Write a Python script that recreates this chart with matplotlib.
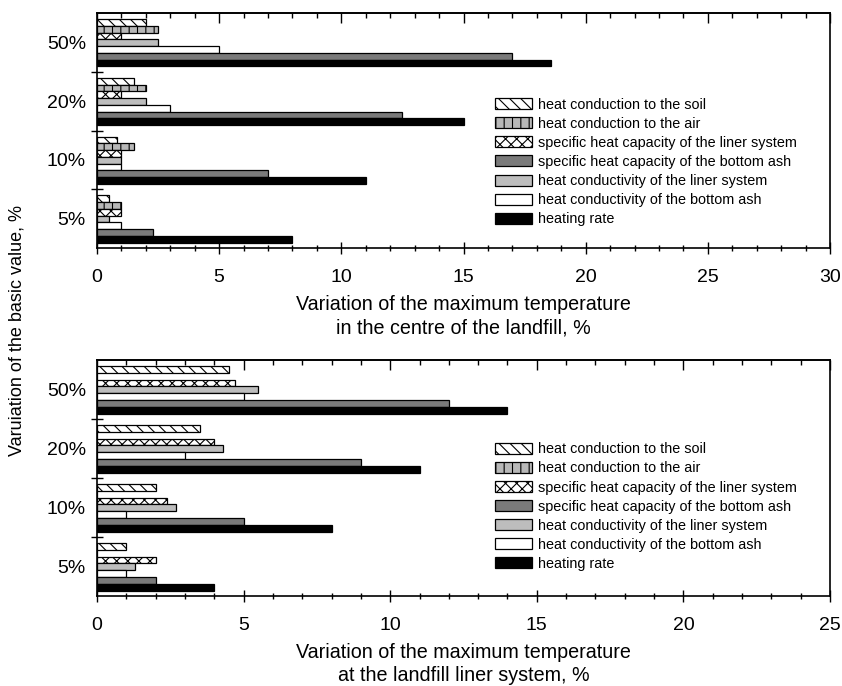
import numpy as np
import matplotlib
matplotlib.use('Agg')
from matplotlib import pyplot as plt
from matplotlib.ticker import MultipleLocator, FixedLocator

plt.rcParams['font.family'] = ['Liberation Sans', 'DejaVu Sans']
plt.rcParams['hatch.linewidth'] = 0.8

groups = ['5%', '10%', '20%', '50%']

labels = ['heat conduction to the soil',
          'heat conduction to the air',
          'specific heat capacity of the liner system',
          'specific heat capacity of the bottom ash',
          'heat conductivity of the liner system',
          'heat conductivity of the bottom ash',
          'heating rate']

# centre of the landfill (values per group 5%, 10%, 20%, 50%)
centre_soil = [0.5, 0.8, 1.5, 2.0]
centre_air = [1.0, 1.5, 2.0, 2.5]
centre_liner_cap = [1.0, 1.0, 1.0, 1.0]
centre_ash_cap = [2.3, 7.0, 12.5, 17.0]
centre_liner_cond = [0.5, 1.0, 2.0, 2.5]
centre_ash_cond = [1.0, 1.0, 3.0, 5.0]
centre_heating = [8.0, 11.0, 15.0, 18.6]

# landfill liner system
liner_soil = [1.0, 2.0, 3.5, 4.5]
liner_air = [0.0, 0.0, 0.0, 0.0]
liner_liner_cap = [2.0, 2.4, 4.0, 4.7]
liner_ash_cap = [2.0, 5.0, 9.0, 12.0]
liner_liner_cond = [1.3, 2.7, 4.3, 5.5]
liner_ash_cond = [1.0, 1.0, 3.0, 5.0]
liner_heating = [4.0, 8.0, 11.0, 14.0]

# styles in legend order
styles = [dict(color='white', hatch='\\\\\\'),
          dict(color='#b8b8b8', hatch='||'),
          dict(color='white', hatch='xxx'),
          dict(color='#7a7a7a', hatch=''),
          dict(color='#bdbdbd', hatch=''),
          dict(color='white', hatch=''),
          dict(color='black', hatch='')]
# order of bars inside a group, top to bottom (indices into labels)
bar_order = [0, 1, 2, 4, 5, 3, 6]


def draw(ax, data, xmax, xlabel, legend_y):
    h = 0.115
    y0 = np.arange(len(groups)) + 0.5
    handles = {}
    for k, idx in enumerate(bar_order):
        st = styles[idx]
        b = ax.barh(y0 + (3 - k) * h - 0.005, data[idx], height=h,
                    color=st['color'], hatch=st['hatch'], edgecolor='black',
                    linewidth=0.9, label=labels[idx])
        handles[idx] = b
    ax.set_xlim(0, xmax)
    ax.set_ylim(0, 4)
    ax.set_xticks(np.arange(0, xmax + 1, 5))
    ax.xaxis.set_minor_locator(MultipleLocator(1))
    ax.set_yticks([1, 2, 3])
    ax.set_yticklabels([])
    ax.yaxis.set_minor_locator(FixedLocator(y0))
    ax.set_yticklabels(groups, minor=True)
    ax.tick_params(axis='x', which='major', direction='inout', length=9,
                   width=1, labelsize=14, pad=10.5)
    ax.tick_params(axis='x', which='minor', direction='inout', length=5, width=1)
    ax.tick_params(axis='y', which='major', direction='inout', length=9, width=1)
    ax.tick_params(axis='y', which='minor', length=0, labelsize=14, pad=8)
    for s in ax.spines.values():
        s.set_linewidth(1.2)
    top = ax.secondary_xaxis('top')
    top.set_xticks(np.arange(0, xmax + 1, 5))
    top.xaxis.set_minor_locator(MultipleLocator(1))
    top.tick_params(which='major', direction='in', length=7, width=1, labeltop=False)
    top.tick_params(which='minor', direction='in', length=3.5, width=1)
    top.spines['top'].set_linewidth(1.2)
    ax.set_xlabel(xlabel, fontsize=14.2, linespacing=1.3)
    ax.xaxis.set_label_coords(0.5, -0.198)
    ax.legend([handles[i] for i in range(7)], labels, loc='center left',
              bbox_to_anchor=(0.543, legend_y), frameon=False, fontsize=10.4,
              borderpad=0, borderaxespad=0, handlelength=2.55,
              handleheight=0.8, labelspacing=0.35, handletextpad=0.4)


fig = plt.figure(figsize=(8.42, 6.86), dpi=100)
ax1 = fig.add_axes([97 / 842, 1 - 248 / 686, 733 / 842, 235 / 686])
ax2 = fig.add_axes([97 / 842, 1 - 596 / 686, 733 / 842, 236 / 686])

draw(ax1, [centre_soil, centre_air, centre_liner_cap, centre_ash_cap,
           centre_liner_cond, centre_ash_cond, centre_heating], 30,
     'Variation of the maximum temperature\nin the centre of the landfill, %', 0.366)
draw(ax2, [liner_soil, liner_air, liner_liner_cap, liner_ash_cap,
           liner_liner_cond, liner_ash_cond, liner_heating], 25,
     'Variation of the maximum temperature\nat the landfill liner system, %', 0.379)

fig.text(17 / 842, 1 - 330 / 686, 'Varuiation of the basic value, %',
         rotation=90, ha='center', va='center', fontsize=13)

fig.savefig('out.png', dpi=100)
